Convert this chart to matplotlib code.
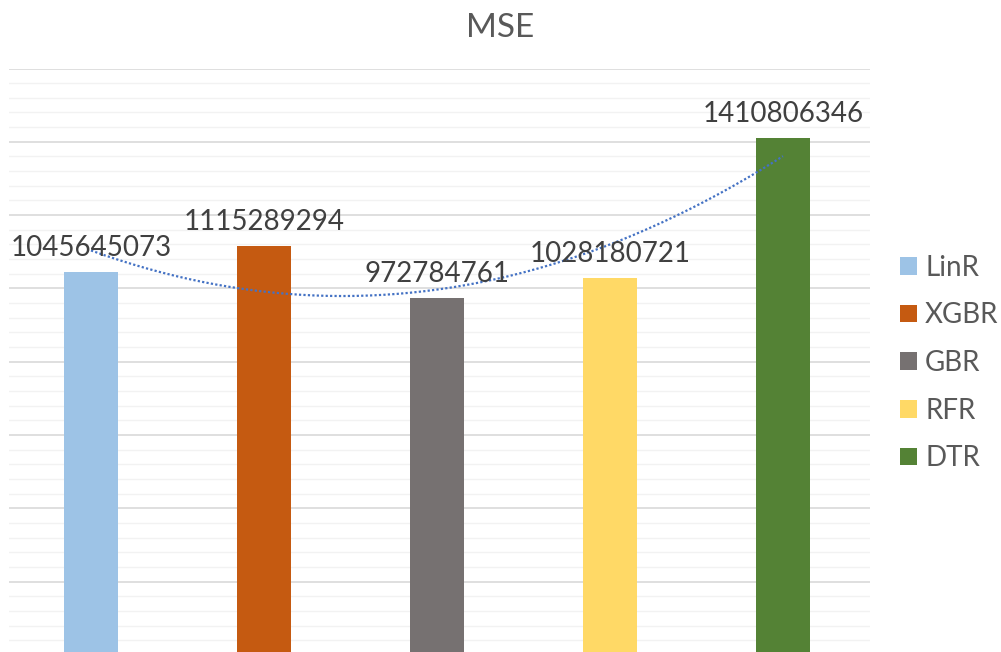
import numpy as np
import matplotlib
matplotlib.use("Agg")
import matplotlib.pyplot as plt
from matplotlib.ticker import MultipleLocator
from matplotlib.patches import Patch

models = ["LinR", "XGBR", "GBR", "RFR", "DTR"]
mse = [1045645073, 1115289294, 972784761, 1028180721, 1410806346]
colors = ["#9DC3E6", "#C55A11", "#767171", "#FFD966", "#548235"]
title = "MSE"

plt.rcParams["font.family"] = ["Lato", "DejaVu Sans"]

W, H = 1001, 652
fig = plt.figure(figsize=(W / 100, H / 100), dpi=100)
# plot area in pixel terms: x 9..870, y 68.5 (top) .. 655 (baseline, just below the edge)
left, right, top, bottom = 9, 870, 68.5, 655
ax = fig.add_axes([left / W, (H - bottom) / H, (right - left) / W, (bottom - top) / H])

x = np.arange(len(models))
ax.bar(x, mse, width=0.312, color=colors, zorder=3)

ax.set_xlim(-0.474, 4.503)
ax.set_ylim(0, 1.6e9)
ax.yaxis.set_major_locator(MultipleLocator(2e8))
ax.yaxis.set_minor_locator(MultipleLocator(4e7))
ax.grid(which="major", axis="y", color="#D9D9D9", linewidth=1.2, zorder=0)
ax.grid(which="minor", axis="y", color="#F2F2F2", linewidth=1.0, zorder=0)
ax.tick_params(which="both", left=False, bottom=False, labelleft=False, labelbottom=False)
for s in ax.spines.values():
    s.set_visible(False)

# value labels
for xi, v in zip(x, mse):
    ax.annotate(f"{v}", (xi, v), xytext=(0, 8), textcoords="offset points",
                ha="center", va="bottom", fontsize=20, color="#404040", zorder=5)

# second-order polynomial trend line
coef = np.polyfit(x, mse, 2)
xs = np.linspace(0, 4, 200)
ax.plot(xs, np.polyval(coef, xs), linestyle=(0, (1, 1)), color="#4472C4",
        linewidth=1.6, zorder=4)

fig.text(500 / W, 1 - 28 / H, title, ha="center", va="center", fontsize=24,
         color="#595959")

handles = [Patch(facecolor=c, edgecolor="none") for c in colors]
fig.legend(handles, models, loc="center left", bbox_to_anchor=(900 / W, 1 - 363 / H),
           frameon=False, fontsize=20, labelcolor="#595959", handlelength=0.6,
           handleheight=0.6, handletextpad=0.3, labelspacing=0.78, borderpad=0,
           borderaxespad=0)

fig.savefig("out.png", dpi=100)
